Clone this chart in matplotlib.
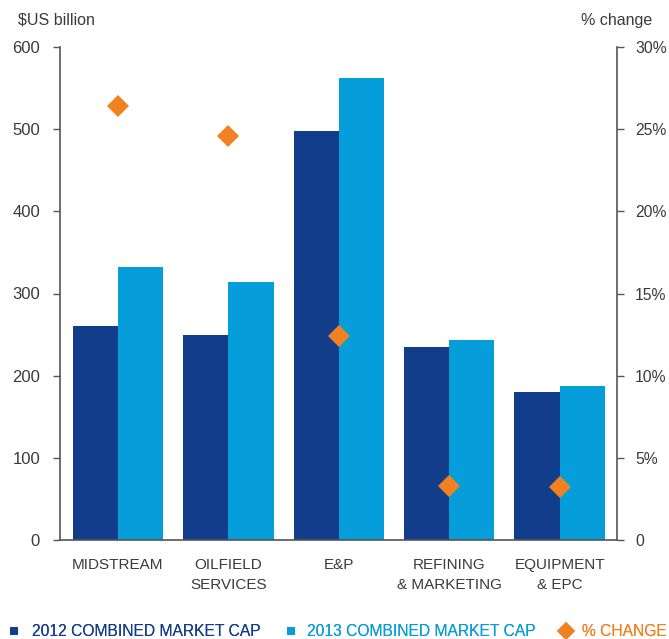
import matplotlib
matplotlib.use("Agg")
import matplotlib.pyplot as plt
import numpy as np
from matplotlib.lines import Line2D

categories = ["MIDSTREAM", "OILFIELD\nSERVICES", "E&P", "REFINING\n& MARKETING", "EQUIPMENT\n& EPC"]
cap_2012 = [260, 250, 498, 235, 180]
cap_2013 = [332, 314, 562, 244, 187]
pct_change = [26.4, 24.6, 12.4, 3.3, 3.2]
left_ticks = [0, 100, 200, 300, 400, 500, 600]
right_ticks = [0, 5, 10, 15, 20, 25, 30]
right_labels = ["0", "5%", "10%", "15%", "20%", "25%", "30%"]
legend_labels = ["2012 COMBINED MARKET CAP", "2013 COMBINED MARKET CAP", "% CHANGE"]

DARK = "#123D8B"
LIGHT = "#059EDB"
ORANGE = "#F28121"
TXT = "#3a3a3a"
SPINE = "#555555"

plt.rcParams['font.family'] = ['Liberation Sans', 'DejaVu Sans']

W, H = 669, 639
fig = plt.figure(figsize=(W/100, H/100), dpi=100)
ax = fig.add_axes([60/W, 1-540/H, (617-60)/W, (540-47)/H])
ax2 = ax.twinx()

x = np.arange(len(categories))
w = 0.41
ax.bar(x - w/2, cap_2012, width=w, color=DARK, zorder=2)
ax.bar(x + w/2, cap_2013, width=w, color=LIGHT, zorder=2)
ax2.plot(x, pct_change, linestyle='none', marker='D', markersize=10.7, color=ORANGE,
         markeredgewidth=0, zorder=3)

ax.set_xlim(-0.525, 4.52)
ax.set_ylim(0, 600)
ax2.set_ylim(0, 30)
ax.set_yticks(left_ticks)
ax.set_yticklabels([str(v) for v in left_ticks])
ax2.set_yticks(right_ticks)
ax2.set_yticklabels(right_labels)
ax.set_xticks(x)
ax.set_xticklabels(categories, linespacing=1.55)

for a in (ax, ax2):
    a.spines['top'].set_visible(False)
    for s in a.spines.values():
        s.set_color(SPINE)
        s.set_linewidth(1.2)
ax.spines['right'].set_visible(False)
ax2.spines['left'].set_visible(False)
ax2.spines['bottom'].set_visible(False)

ax.tick_params(axis='y', direction='out', length=5, width=1, color=SPINE,
               labelsize=12, labelcolor=TXT, pad=9.4)
ax2.tick_params(axis='y', direction='out', length=5, width=1, color=SPINE,
                labelsize=11.3, labelcolor=TXT, pad=8)
ax.tick_params(axis='x', length=0, labelsize=11, labelcolor=TXT, pad=13)

fig.text(18/W, 1-20/H, "$US billion", fontsize=11.5, color=TXT, va='center', ha='left')
fig.text(652/W, 1-20/H, "% change", fontsize=11.5, color=TXT, va='center', ha='right')

fs = 11.25
em = fs * 100 / 72
ly = 1 - 632/H
specs = [
    (Line2D([], [], linestyle='none', marker='s', markersize=5.2, color=DARK, markeredgewidth=0),
     legend_labels[0], DARK, 10, 7/em, 15/em),
    (Line2D([], [], linestyle='none', marker='s', markersize=5.2, color=LIGHT, markeredgewidth=0),
     legend_labels[1], LIGHT, 287, 7/em, 13/em),
    (Line2D([], [], linestyle='none', marker='D', markersize=8.8, color=ORANGE, markeredgewidth=0),
     legend_labels[2], ORANGE, 557, 17/em, 8/em),
]
for handle, label, col, x0, hl, tp in specs:
    leg = fig.legend([handle], [label], loc='center left', bbox_to_anchor=(x0/W, ly),
                     frameon=False, fontsize=fs, handlelength=hl, handleheight=0.7,
                     handletextpad=tp, borderaxespad=0, borderpad=0)
    for t in leg.get_texts():
        t.set_color(col)
    fig.add_artist(leg)

fig.savefig("out.png", dpi=100)
